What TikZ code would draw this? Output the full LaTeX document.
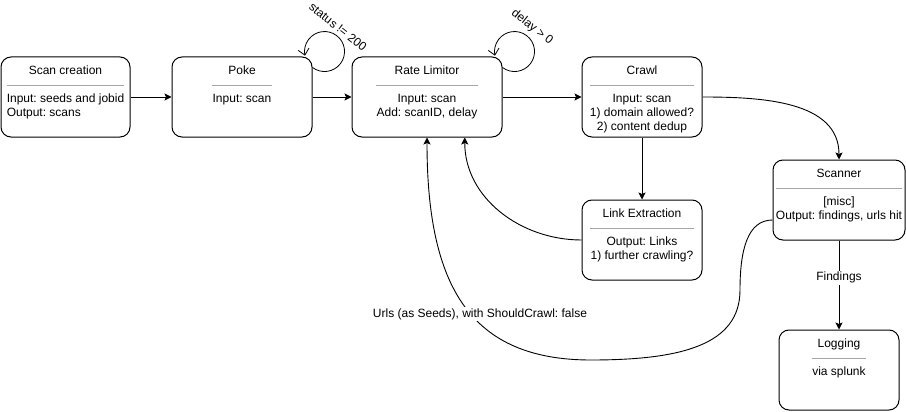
\documentclass[tikz,border=0pt]{standalone}
\usepackage{fontspec}
\setmainfont{Liberation Sans}
\usetikzlibrary{arrows.meta,calc}
\newcommand\dfont{\fontsize{12}{14}\selectfont}
\frenchspacing
\begin{document}
\begin{tikzpicture}[x=1pt,y=1pt,
  box/.style={draw, line width=1pt, rounded corners=10pt, minimum height=80pt, inner sep=0pt},
  ttl/.style={anchor=base, inner sep=0pt, font=\dfont},
  bdy/.style={anchor=north, inner sep=0pt, align=center, font=\dfont},
  sepline/.style={draw=gray!70, line width=0.8pt},
  edge/.style={line width=0.9pt, -{Stealth[length=7pt,width=7pt,inset=1.5pt]}},
  loopedge/.style={line width=0.8pt, -{Straight Barb[length=6pt,width=11pt]}},
  lbl/.style={fill=white, inner sep=1.5pt, font=\dfont},
  looplbl/.style={inner sep=0pt, font=\dfont, rotate=-38}]
\useasboundingbox (0,0) rectangle (906,-412);

% boxes
\node[box, minimum width=129pt] (scan) at (65.5,-97) {};
\node[box, minimum width=140pt] (poke) at (242,-97) {};
\node[box, minimum width=150pt] (rate) at (427,-97) {};
\node[box, minimum width=120pt] (crawl) at (642,-97) {};
\node[box, minimum width=132pt] (scanner) at (839,-200) {};
\node[box, minimum width=120pt] (link) at (642,-240) {};
\node[box, minimum width=120pt] (logging) at (839,-370) {};

% titles
\node[ttl] (scant) at ([yshift=-18.3pt]scan.north) {Scan creation};
\node[ttl] (poket) at ([yshift=-18.3pt]poke.north) {Poke};
\node[ttl] (ratet) at ([yshift=-18.3pt]rate.north) {Rate Limitor};
\node[ttl] (crawlt) at ([yshift=-18.3pt]crawl.north) {Crawl};
\node[ttl] (scannert) at ([yshift=-18.3pt]scanner.north) {Scanner};
\node[ttl] (linkt) at ([yshift=-18.3pt]link.north) {Link Extraction};
\node[ttl] (loggingt) at ([yshift=-18.3pt]logging.north) {Logging};

% bodies
\node[bdy, align=left] (scanb) at ([yshift=-37.5pt]scan.north) {Input: seeds and jobid\\Output: scans};
\node[bdy] (pokeb) at ([yshift=-37.5pt]poke.north) {Input: scan};
\node[bdy] (rateb) at ([yshift=-37.5pt]rate.north) {Input: scan\\Add: scanID, delay};
\node[bdy] (crawlb) at ([yshift=-37.5pt]crawl.north) {Input: scan\\1) domain allowed?\\2) content dedup};
\node[bdy] (scannerb) at ([yshift=-37.5pt]scanner.north) {[misc]\\Output: findings, urls hit};
\node[bdy] (linkb) at ([yshift=-37.5pt]link.north) {Output: Links\\1) further crawling?};
\node[bdy] (loggingb) at ([yshift=-37.5pt]logging.north) {via splunk};

% separators
\foreach \n in {scanb,pokeb,rateb,crawlb,scannerb,linkb,loggingb}{
  \draw[sepline] ($(\n.north west)+(0,8.5)$) -- ($(\n.north east)+(0,8.5)$);
}

% straight connectors
\draw[edge] (scan) -- (poke);
\draw[edge] (poke) -- (rate);
\draw[edge] (rate) -- (crawl);
\draw[edge] (crawl) -- (link);
\draw[edge] (scanner) -- node[lbl, pos=0.42] (findlbl) {Findings} (logging);

% curved connectors
\draw[edge] (crawl.east) to[out=0,in=90] (scanner.north);
\coordinate (rateback) at ($(rate.south)!0.5!(rate.south east)$);
\draw[edge] (link.west) to[out=180,in=-90] (rateback);
\coordinate (w1) at (740,-290);
\coordinate (w2) at (591,-360);
\draw[edge] ([yshift=-20pt]scanner.west) .. controls +(-25,0) and +(0,40) .. (w1)
  .. controls +(0,-55) and +(90,0) .. (w2)
  .. controls +(-120,0) and +(0,-150) .. (rate.south);
\node[lbl] (urlslbl) at (480,-314) {Urls (as Seeds), with ShouldCrawl: false};

% self loops
\draw[loopedge] ([yshift=-11pt]poke.north east) arc[start angle=-127, end angle=192, radius=20];
\draw[loopedge] ([yshift=-11pt]rate.north east) arc[start angle=-127, end angle=192, radius=20];
\node[looplbl] (pokeloop) at (338,-27) {status != 200};
\node[looplbl] (rateloop) at (532,-27) {delay > 0};
\end{tikzpicture}
\end{document}
